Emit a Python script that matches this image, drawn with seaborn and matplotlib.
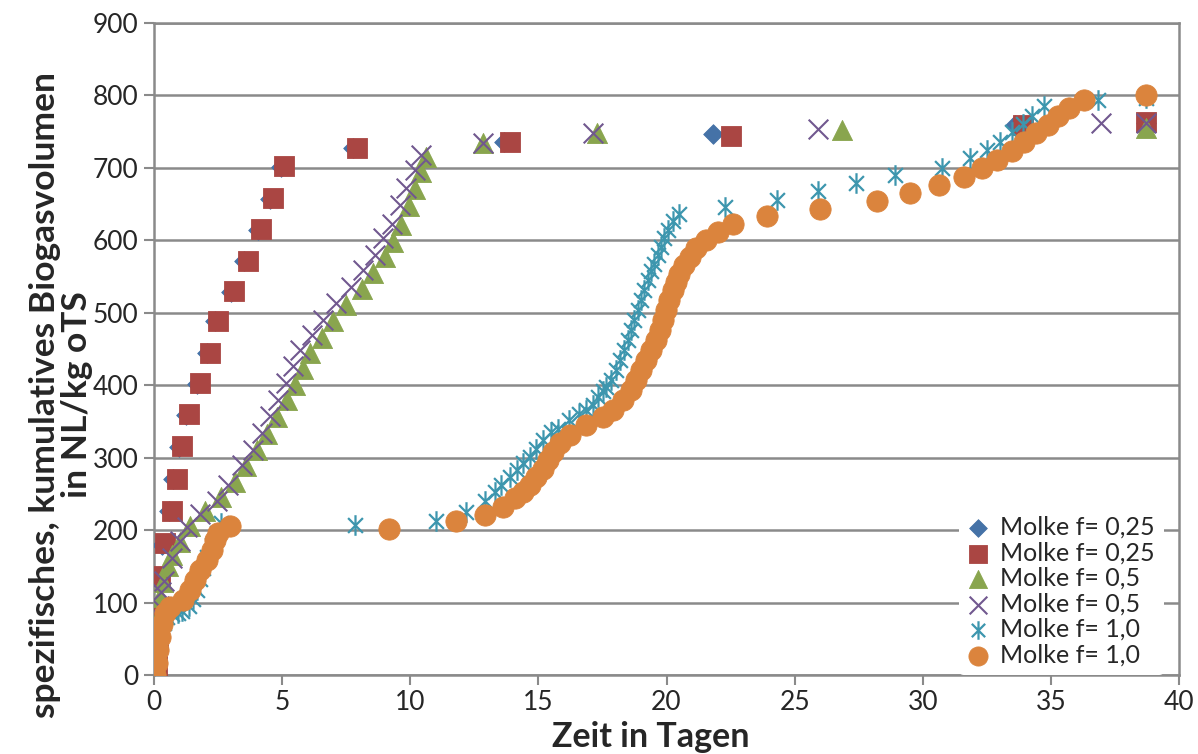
import matplotlib
matplotlib.use("Agg")
import matplotlib.pyplot as plt
from matplotlib.path import Path
import seaborn as sns

# ---------------- data ----------------
labels = ["Molke f= 0,25", "Molke f= 0,25", "Molke f= 0,5", "Molke f= 0,5", "Molke f= 1,0", "Molke f= 1,0"]

blue_days = [0.0, 0.06, 0.1, 0.14, 0.18, 0.33, 0.6, 0.76, 0.99, 1.24, 1.67, 2.05, 2.39, 2.99, 3.53, 4.04, 4.52, 4.95, 7.78, 13.65, 21.8, 33.6, 38.7]
blue_vals = [0, 10, 45, 90, 135, 180, 226, 270, 315, 359, 402, 444, 488, 529, 571, 614, 657, 701, 727, 736, 747, 759, 762]

red_days = [0.0, 0.1, 0.15, 0.2, 0.25, 0.43, 0.71, 0.88, 1.11, 1.36, 1.79, 2.17, 2.51, 3.11, 3.65, 4.16, 4.64, 5.07, 7.91, 13.9, 22.5, 33.9, 38.7]
red_vals = [0, 12, 48, 92, 137, 182, 227, 271, 316, 360, 403, 445, 489, 530, 572, 615, 658, 703, 727, 736, 744, 759, 764]

green_days = [0.0, 0.05, 0.1, 0.16, 0.23, 0.35, 0.55, 0.72, 1.0, 1.4, 2.0, 2.6, 3.15, 3.6, 4.0, 4.4, 4.8, 5.2, 5.5, 5.8, 6.1, 6.55,
              7.0, 7.5, 8.1, 8.55, 9.0, 9.33, 9.65, 9.94, 10.18, 10.41, 10.63, 12.85, 17.3, 26.85, 38.7]
green_vals = [0, 25, 50, 78, 108, 129, 150, 165, 183, 206, 226, 246, 266, 288, 310, 333, 356, 380, 400, 422, 444, 465,
              488, 511, 533, 555, 577, 598, 621, 647, 671, 695, 715, 735, 748, 752, 755]

purple_days = [0.0, 0.05, 0.1, 0.15, 0.2, 0.28, 0.4, 0.69, 1.0, 1.27, 1.79, 2.44, 2.9, 3.42, 3.87, 4.2, 4.52, 4.85, 5.17, 5.43,
               5.69, 6.15, 6.6, 7.12, 7.7, 8.16, 8.62, 8.94, 9.27, 9.59, 9.85, 10.18, 10.43, 12.85, 17.15, 25.9, 36.95, 38.7]
purple_vals = [0, 20, 45, 70, 95, 115, 130, 162, 185, 204, 222, 240, 262, 290, 311, 334, 357, 380, 403, 426,
               449, 469, 490, 513, 536, 559, 580, 603, 623, 649, 672, 697, 718, 735, 748, 754, 762, 762]

cyan_days = [0.0, 0.05, 0.1, 0.15, 0.2, 0.3, 0.4, 0.5, 0.7, 0.95, 1.08, 1.35, 1.53, 1.66, 1.8, 1.92, 2.05, 2.25, 2.44, 2.6,
             7.84, 11.02, 12.16, 12.9, 13.3, 13.55, 13.9, 14.15, 14.4, 14.66, 14.92, 15.18, 15.5, 15.75, 16.2, 16.6, 16.87,
             17.13, 17.32, 17.52, 17.65, 17.84, 18.04, 18.17, 18.36, 18.49, 18.62, 18.75, 18.88, 19.01, 19.14, 19.27, 19.4,
             19.53, 19.66, 19.8, 19.92, 20.05, 20.25, 20.5, 22.3, 24.3, 25.9, 27.4, 28.9, 30.75, 31.85, 32.5, 33.0, 33.5,
             33.9, 34.28, 34.74, 36.85, 38.7]
cyan_vals = [0, 12, 25, 38, 50, 62, 72, 80, 84, 86, 88, 95, 105, 118, 132, 148, 163, 180, 196, 210,
             207, 213, 225, 240, 252, 262, 273, 283, 292, 301, 312, 325, 335, 340, 352, 360, 366,
             373, 384, 392, 398, 407, 421, 435, 449, 462, 476, 490, 504, 518, 531, 545, 557,
             568, 580, 591, 603, 614, 626, 637, 646, 656, 668, 679, 690, 700, 713, 725, 736, 750,
             760, 772, 785, 794, 796]

orange_days = [0.0, 0.04, 0.1, 0.17, 0.23, 0.3, 0.43, 0.62, 1.14, 1.4, 1.6, 1.79, 2.05, 2.25, 2.38, 2.5, 2.96,
               9.16, 11.8, 12.9, 13.6, 14.07, 14.4, 14.66, 14.92, 15.18, 15.37, 15.57, 15.83, 16.22, 16.87, 17.52,
               17.9, 18.3, 18.62, 18.82, 19.0, 19.2, 19.4, 19.6, 19.73, 19.86, 19.99, 20.1, 20.25, 20.38, 20.5, 20.7,
               20.9, 21.15, 21.55, 22.0, 22.6, 23.94, 26.0, 28.2, 29.5, 30.64, 31.6, 32.33, 32.9, 33.5, 33.96, 34.4,
               34.87, 35.26, 35.7, 36.3, 38.7]
orange_vals = [0, 0, 16, 34, 53, 71, 85, 94, 103, 117, 131, 145, 159, 172, 186, 196, 205,
               202, 212, 221, 232, 244, 253, 262, 274, 285, 297, 308, 320, 331, 345, 356,
               366, 380, 393, 407, 421, 435, 449, 462, 476, 490, 504, 518, 531, 543, 554, 566,
               577, 589, 600, 611, 622, 634, 643, 654, 665, 676, 688, 700, 711, 724, 736, 748,
               759, 771, 782, 794, 801]

x_ticks = [0, 5, 10, 15, 20, 25, 30, 35, 40]
y_ticks = [0, 100, 200, 300, 400, 500, 600, 700, 800, 900]

# ---------------- style ----------------
sns.set_style("white")
plt.rcParams["font.family"] = ["Lato", "DejaVu Sans"]

star = Path([(0, -1), (0, 1), (-0.72, -0.72), (0.72, 0.72), (-0.72, 0.72), (0.72, -0.72)],
            [Path.MOVETO, Path.LINETO, Path.MOVETO, Path.LINETO, Path.MOVETO, Path.LINETO])

series = [
    (blue_days, blue_vals, "D", "#4572A7", 100, 0.6),
    (red_days, red_vals, "s", "#AA4643", 210, 0.6),
    (green_days, green_vals, "^", "#89A54E", 210, 0.6),
    (purple_days, purple_vals, "x", "#71588F", 200, 1.5),
    (cyan_days, cyan_vals, star, "#3D96AE", 220, 1.6),
    (orange_days, orange_vals, "o", "#DB843D", 235, 0.6),
]

fig = plt.figure(figsize=(11.98, 7.54), dpi=100)
ax = fig.add_axes([154 / 1198, 1 - 675 / 754, (1179 - 154) / 1198, (675 - 23) / 754])

grid_c = "#8A8A8A"
for yv in y_ticks:
    ax.axhline(yv, color=grid_c, lw=1.8, zorder=0)

for i, (d, v, m, c, s, lw) in enumerate(series):
    sns.scatterplot(x=d, y=v, marker=m, color=c, s=s, edgecolor=c, linewidth=lw,
                    label=labels[i], ax=ax, zorder=3 + i)

ax.set_xlim(0, 40)
ax.set_ylim(0, 900)
ax.set_xticks(x_ticks)
ax.set_yticks(y_ticks)
ax.tick_params(axis="both", which="both", direction="out", length=7, width=1.5, color=grid_c,
               labelsize=19, pad=4, left=True, bottom=True)
for sp in ax.spines.values():
    sp.set_color(grid_c)
    sp.set_linewidth(1.8)

ax.set_xlabel("Zeit in Tagen", fontsize=24.5, fontweight="bold", va="top")
ax.xaxis.set_label_coords(0.485, -0.07)
ax.set_ylabel("spezifisches, kumulatives Biogasvolumen\nin NL/kg oTS", fontsize=25.5,
              fontweight="bold", linespacing=1.0)
ax.yaxis.set_label_coords(-0.06, 0.43)

leg = ax.legend(loc="lower right", bbox_to_anchor=(0.985, 0.0), frameon=True, fontsize=18,
                handletextpad=0.45, labelspacing=0.1, borderpad=0.35, borderaxespad=0.0,
                handlelength=0.85, markerscale=0.9)
leg.get_frame().set_facecolor("white")
leg.get_frame().set_edgecolor("none")
leg.get_frame().set_alpha(1.0)
leg.set_zorder(20)

fig.savefig("out.png", dpi=100)
